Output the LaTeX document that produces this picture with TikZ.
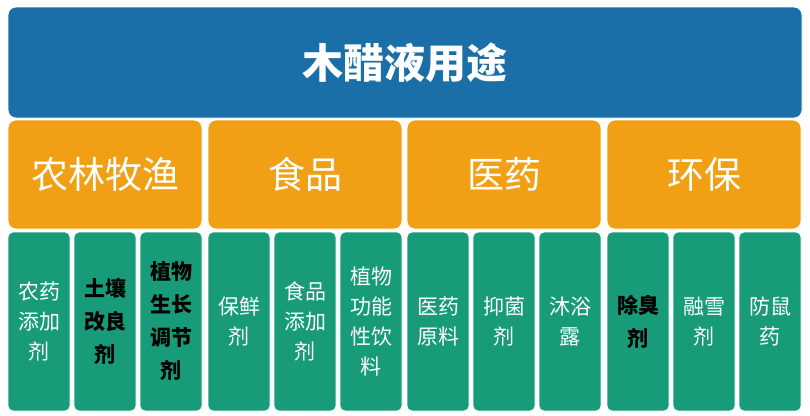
\documentclass[tikz,border=0pt]{standalone}
\usepackage{fontspec}
\newfontfamily\cjk{Noto Sans CJK SC}
\usetikzlibrary{positioning}

\definecolor{topblue}{RGB}{26,111,168}
\definecolor{catorange}{RGB}{241,160,21}
\definecolor{usegreen}{RGB}{23,155,121}

\begin{document}
\begin{tikzpicture}[x=1pt,y=-1pt,
	box/.style={draw=white, line width=0.8pt, inner sep=0pt, text=white},
	topbox/.style={box, fill=topblue, rounded corners=8pt, minimum width=794pt, minimum height=111pt, font={\cjk\bfseries\fontsize{41}{48}\selectfont}},
	catbox/.style={box, fill=catorange, rounded corners=8pt, minimum width=194pt, minimum height=109pt, font={\cjk\fontsize{37}{44}\selectfont}},
	usebox/.style={box, fill=usegreen, rounded corners=5pt, minimum width=62pt, minimum height=179pt, align=center, font={\cjk\fontsize{21}{30}\selectfont}},
	usebold/.style={usebox, text=black, font={\cjk\bfseries\fontsize{21}{33}\selectfont}}]
	\useasboundingbox (0,0) rectangle (810,415);
	
	% Title
	\node[topbox] (title) at (405,62.5) {木醋液用途};
	
	% Categories
	\foreach \n/\x/\t in {1/105/农林牧渔, 2/305/食品, 3/504/医药, 4/704/环保}
		\node[catbox] (cat\n) at (\x,174.5) {\t};
	
	% Uses
	\foreach \n/\x/\s/\t in {
		1/39/usebox/{农药\\添加\\剂},
		2/105/usebold/{土壤\\改良\\剂},
		3/171/usebold/{植物\\生长\\调节\\剂},
		4/239/usebox/{保鲜\\剂},
		5/305/usebox/{食品\\添加\\剂},
		6/371/usebox/{植物\\功能\\性饮\\料},
		7/438/usebox/{医药\\原料},
		8/504/usebox/{抑菌\\剂},
		9/570/usebox/{沐浴\\露},
		10/638/usebold/{除臭\\剂},
		11/704/usebox/{融雪\\剂},
		12/770/usebox/{防鼠\\药}}
		\node[\s] (use\n) at (\x,321.5) {\t};
\end{tikzpicture}
\end{document}
